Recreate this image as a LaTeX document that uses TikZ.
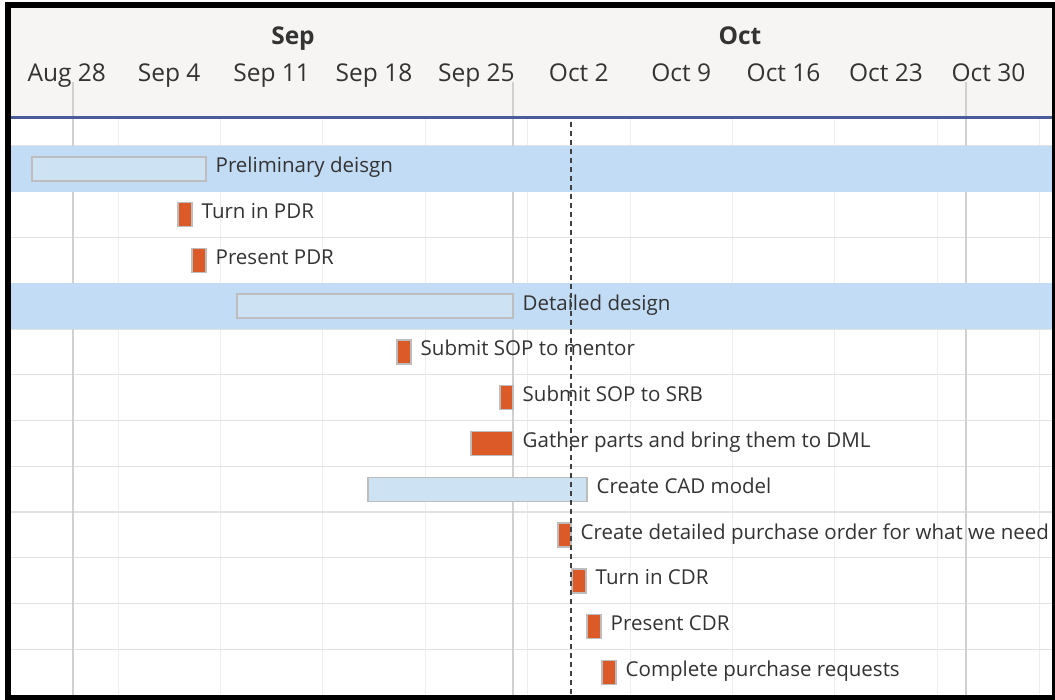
\documentclass[tikz,border=0pt]{standalone}
\usepackage{fontspec}
\setmainfont{Open Sans}
\definecolor{hdrbg}{HTML}{F6F5F3}
\definecolor{hdrline}{HTML}{4B5B9B}
\definecolor{band}{HTML}{C3DCF5}
\definecolor{sumfill}{HTML}{CDE3F3}
\definecolor{barborder}{HTML}{BDBDBD}
\definecolor{milefill}{HTML}{DC5A27}
\definecolor{txt}{HTML}{333333}
\definecolor{gridlight}{HTML}{EEEEEE}
\definecolor{griddark}{HTML}{D0D0D0}
\definecolor{rowline}{HTML}{E2E2E2}
\definecolor{todaycol}{HTML}{404040}
\begin{document}
\begin{tikzpicture}[x=1pt,y=-1pt,
  summ/.style={fill=sumfill,draw=barborder,line width=1.5pt},
  task/.style={fill=milefill,draw=barborder,line width=1.5pt},
  lbl/.style={anchor=base west,inner sep=0pt,text=txt,font=\fontsize{20.5}{24}\selectfont},
  wk/.style={anchor=base,inner sep=0pt,text=txt,font=\fontsize{24.5}{28}\selectfont},
  mon/.style={anchor=base,inner sep=0pt,text=txt,font=\fontsize{24.5}{28}\selectfont\bfseries},
  lightgrid/.style={draw=gridlight,line width=1pt},
  darkgrid/.style={draw=griddark,line width=1.2pt},
  rowsep/.style={draw=rowline,line width=1.4pt},
  todayline/.style={draw=todaycol,line width=1.3pt,dash pattern=on 5pt off 4pt}
]
\useasboundingbox (0,0) rectangle (1055,700);
\fill[white] (0,0) rectangle (1055,700);
% frame
\fill[black] (5,2) rectangle (1055,700);
\fill[white] (11,8) rectangle (1052,695);
% header
\fill[hdrbg] (11,8) rectangle (1052,116);
% light week gridlines
\foreach \k in {0,...,9} {
  \draw[lightgrid] ({118+102.4*\k},119) -- ({118+102.4*\k},695);
}
% row separators
\foreach \i in {0,...,11} {
  \draw[rowsep] (11,{146+45.75*\i}) -- (1052,{146+45.75*\i});
}
% month gridlines
\foreach \mx in {73,513,966} {
  \draw[darkgrid] (\mx,82) -- (\mx,695);
}
% summary bands
\foreach \r in {0,3} {
  \fill[band] (11,{146+45.75*\r}) rectangle (1052,{146+45.75*(\r+1)});
}
% header bottom line
\draw[hdrline,line width=3pt] (11,117.5) -- (1052,117.5);
% month labels
\node[mon] (msep) at (293,45) {Sep};
\node[mon] (moct) at (740,45) {Oct};
% week labels
\foreach \lab [count=\k from 0] in {Aug 28,Sep 4,Sep 11,Sep 18,Sep 25,Oct 2,Oct 9,Oct 16,Oct 23,Oct 30} {
  \node[wk] (w\k) at ({66.8+102.4*\k},82) {\lab};
}
% bars and labels
\foreach \r/\a/\b/\s/\tx/\nm in {
  0/32/206/summ/Preliminary deisgn/t0,
  1/178/192/task/Turn in PDR/t1,
  2/192/206/task/Present PDR/t2,
  3/237/513/summ/Detailed design/t3,
  4/397/411/task/Submit SOP to mentor/t4,
  5/500/513/task/Submit SOP to SRB/t5,
  6/471/513/task/Gather parts and bring them to DML/t6,
  7/368/587/summ/Create CAD model/t7,
  8/558/571/task/Create detailed purchase order for what we need/t8,
  9/572/586/task/Turn in CDR/t9,
  10/587/601/task/Present CDR/t10,
  11/602/616/task/Complete purchase requests/t11} {
  \pgfmathsetmacro\cy{169+45.75*\r}
  \draw[\s] (\a,\cy-12) rectangle (\b,\cy+12);
  \node[lbl] (\nm) at (\b+9.5,\cy+4) {\tx};
}
% today line
\coordinate (todaytop) at (571,122);
\coordinate (todaybot) at (571,695);
\draw[todayline] (todaytop) -- (todaybot);
\end{tikzpicture}
\end{document}
